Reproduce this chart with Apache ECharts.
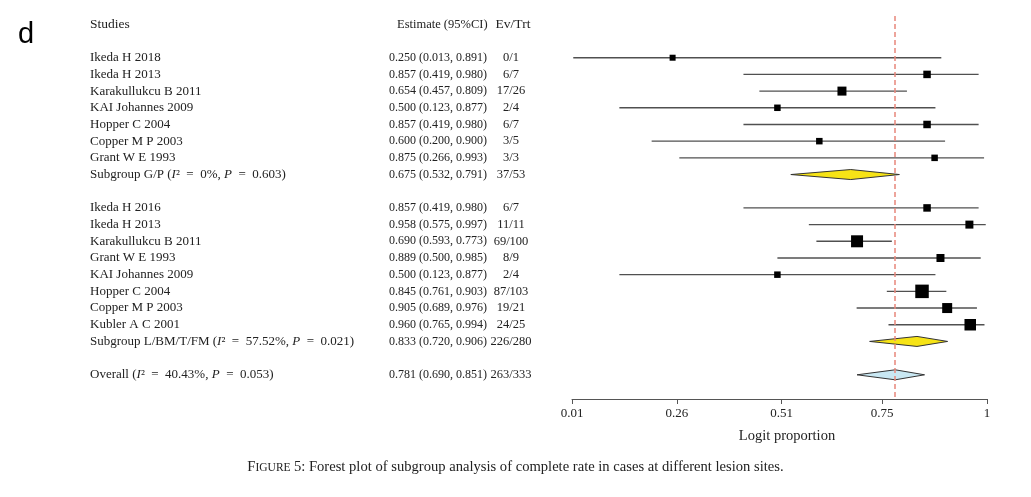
<!DOCTYPE html>
<html>
<head>
<meta charset="utf-8">
<script src="https://cdn.jsdelivr.net/npm/echarts@6/dist/echarts.min.js"></script>
<style>
html,body{margin:0;padding:0;background:#fff;}
#main{width:1031px;height:497px;}
</style>
</head>
<body>
<div id="main"></div>
<script>
// ---- data ----
const studyNames = [
  'Ikeda H 2018', 'Ikeda H 2013', 'Karakullukcu B 2011', 'KAI Johannes 2009',
  'Hopper C 2004', 'Copper M P 2003', 'Grant W E 1993',
  'Subgroup G/P ({i|I}²\u2002=\u20020%, {i|P}\u2002=\u20020.603)',
  '',
  'Ikeda H 2016', 'Ikeda H 2013', 'Karakullukcu B 2011', 'Grant W E 1993',
  'KAI Johannes 2009', 'Hopper C 2004', 'Copper M P 2003', 'Kubler A C 2001',
  'Subgroup L/BM/T/FM ({i|I}²\u2002=\u200257.52%, {i|P}\u2002=\u20020.021)',
  '',
  'Overall ({i|I}²\u2002=\u200240.43%, {i|P}\u2002=\u20020.053)'
];
const estimates = [0.250, 0.857, 0.654, 0.500, 0.857, 0.600, 0.875, 0.675, null,
  0.857, 0.958, 0.690, 0.889, 0.500, 0.845, 0.905, 0.960, 0.833, null, 0.781];
const lowers = [0.013, 0.419, 0.457, 0.123, 0.419, 0.200, 0.266, 0.532, null,
  0.419, 0.575, 0.593, 0.500, 0.123, 0.761, 0.689, 0.765, 0.720, null, 0.690];
const uppers = [0.891, 0.980, 0.809, 0.877, 0.980, 0.900, 0.993, 0.791, null,
  0.980, 0.997, 0.773, 0.985, 0.877, 0.903, 0.976, 0.994, 0.906, null, 0.851];
const evTrt = ['0/1', '6/7', '17/26', '2/4', '6/7', '3/5', '3/3', '37/53', '',
  '6/7', '11/11', '69/100', '8/9', '2/4', '87/103', '19/21', '24/25', '226/280', '', '263/333'];
const rowKinds = ['study','study','study','study','study','study','study','sub','blank',
  'study','study','study','study','study','study','study','study','sub','blank','overall'];
// relative study weight (marker size)
const weights = [6, 7.5, 9, 6.5, 7.5, 6.5, 6.5, 0, 0,
  7.5, 8, 12, 8, 6.5, 13.5, 10, 11.5, 0, 0, 0];
const headers = ['Studies', 'Estimate (95%CI)', 'Ev/Trt'];
const xTicks = [0.01, 0.26, 0.51, 0.75, 1];
const refValue = 0.781;
const xTitle = 'Logit proportion';
const caption = '{b|F}{s|IGURE} {b|5: Forest plot of subgroup analysis of complete rate in cases at different lesion sites.}';

// ---- build ----
const SERIF = '"Liberation Serif", "DejaVu Serif", serif';
const FS_NAME = 13, FS_NUM = 12, FS_EV = 12.5;
const forestData = [];
const textData = [];
for (let i = 0; i < studyNames.length; i++) {
  if (rowKinds[i] !== 'blank') {
    forestData.push([i, estimates[i], lowers[i], uppers[i], weights[i], rowKinds[i]]);
  }
  textData.push([i, studyNames[i], estimates[i] == null ? '' :
    estimates[i].toFixed(3) + ' (' + lowers[i].toFixed(3) + ', ' + uppers[i].toFixed(3) + ')', evTrt[i]]);
}
textData.push([-2, headers[0], headers[1], headers[2], 'header']);

const chart = echarts.init(document.getElementById('main'), null, {renderer: 'canvas'});
const option = {
  backgroundColor: '#ffffff',
  animation: false,
  grid: {left: 572, right: 44, top: 16, bottom: 98},
  xAxis: {
    type: 'value', min: 0.01, max: 1,
    axisLine: {show: true, onZero: false, lineStyle: {color: '#555', width: 1}},
    axisTick: {show: true, length: 5, lineStyle: {color: '#555'}, customValues: xTicks},
    axisLabel: {customValues: xTicks, margin: 8, color: '#222', fontFamily: SERIF, fontSize: 13,
      formatter: v => String(+v.toFixed(2))},
    splitLine: {show: false},
    name: xTitle, nameLocation: 'middle', nameGap: 30,
    nameTextStyle: {color: '#222', fontFamily: SERIF, fontSize: 14.5, padding: [0, 0, 0, 15]}
  },
  yAxis: {type: 'value', min: -2.5, max: 20.45, inverse: true, show: false},
  graphic: [
    {type: 'text', left: 18, top: 20, style: {text: 'd', font: '29px "Liberation Sans", Arial, sans-serif', fill: '#000'}},
    {type: 'text', left: 'center', top: 460, style: {
      text: caption, fill: '#222',
      rich: {b: {fontFamily: SERIF, fontSize: 14.6, fill: '#222'}, s: {fontFamily: SERIF, fontSize: 11.5, fill: '#222'}}
    }}
  ],
  series: [
    {
      type: 'custom',
      data: forestData,
      encode: {x: [1, 2, 3], y: 0},
      clip: false,
      renderItem: function (params, api) {
        const i = api.value(0), est = api.value(1), lo = api.value(2), hi = api.value(3);
        const w = api.value(4), kind = forestData[params.dataIndex][5];
        const pe = api.coord([est, i]), pl = api.coord([lo, i]), ph = api.coord([hi, i]);
        if (kind === 'study') {
          return {type: 'group', children: [
            {type: 'line', shape: {x1: pl[0], y1: pl[1], x2: ph[0], y2: ph[1]},
              style: {stroke: '#505050', lineWidth: 1.4}},
            {type: 'rect', shape: {x: pe[0] - w / 2, y: pe[1] - w / 2, width: w, height: w},
              style: {fill: '#000'}}
          ]};
        }
        const h = 5;
        return {type: 'polygon', shape: {points: [[pl[0], pl[1]], [pe[0], pe[1] - h], [ph[0], ph[1]], [pe[0], pe[1] + h]]},
          style: {fill: kind === 'sub' ? '#f6e316' : '#c9e8f3', stroke: '#333', lineWidth: 1}};
      },
      markLine: {
        silent: true, symbol: 'none', label: {show: false},
        lineStyle: {color: '#e8877b', type: [5, 3], width: 1.5},
        data: [{xAxis: refValue}]
      },
      z: 3
    },
    {
      type: 'custom',
      data: textData,
      encode: {y: 0},
      clip: false,
      renderItem: function (params, api) {
        const d = textData[params.dataIndex];
        const y = api.coord([0.01, d[0]])[1];
        const header = d[4] === 'header';
        const mk = (fs) => ({fontFamily: SERIF, fontSize: fs, fill: '#222', verticalAlign: 'middle'});
        const rich = {i: {fontFamily: SERIF, fontSize: FS_NAME, fontStyle: 'italic', fill: '#222'}};
        return {type: 'group', children: [
          {type: 'text', x: 90, y: y, style: Object.assign(mk(header ? 13.5 : FS_NAME), {text: d[1], align: 'left', rich: rich})},
          {type: 'text', x: header ? 397 : 389, y: y, style: Object.assign(mk(header ? 12.5 : FS_NUM), {text: d[2], align: 'left'})},
          {type: 'text', x: header ? 513 : 511, y: y, style: Object.assign(mk(header ? 13.5 : FS_EV), {text: d[3], align: 'center'})}
        ]};
      }
    }
  ]
};
chart.setOption(option);
</script>
</body>
</html>
